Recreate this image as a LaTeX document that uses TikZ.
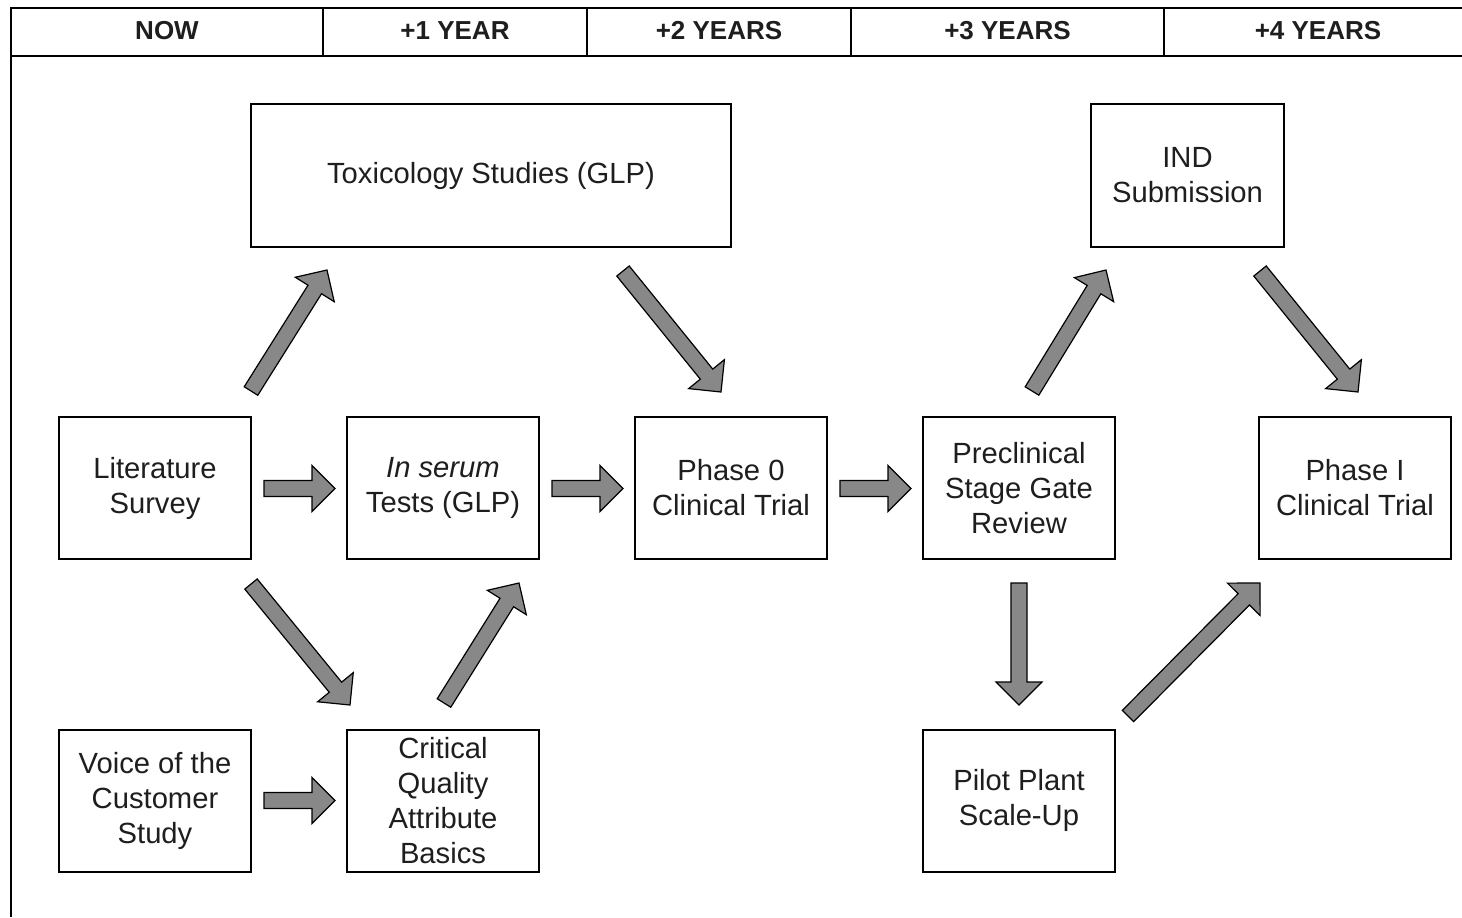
\documentclass[tikz,border=0pt]{standalone}
\usepackage{fontspec}
\setmainfont{Liberation Sans}
\usetikzlibrary{calc}
\definecolor{arrgray}{HTML}{888888}
\definecolor{txt}{HTML}{1E1E1E}
\tikzset{
  box/.style={draw=black, line width=1pt, minimum width=96pt, minimum height=71pt, inner sep=0pt, align=center, text=txt, font=\fontsize{14.6}{17.5}\selectfont},
  hdr/.style={font=\bfseries\fontsize{13}{15}\selectfont, text=txt},
  barrow/.style={draw=black, line width=0.6pt, fill=arrgray, line join=miter},
}
\newcommand\blockarr[2]{%
  \coordinate (hb) at ($(#2)!11.5pt!(#1)$);
  \path[barrow] ($(#1)!4pt!90:(#2)$) -- ($(hb)!4pt!90:(#2)$) -- ($(hb)!11.5pt!90:(#2)$)
    -- (#2) -- ($(hb)!11.5pt!-90:(#2)$) -- ($(hb)!4pt!-90:(#2)$) -- ($(#1)!4pt!-90:(#2)$) -- cycle;
}
\begin{document}
\begin{tikzpicture}[x=0.5pt, y=-0.5pt]
\useasboundingbox (0,0) rectangle (1462,917);
\fill[white] (0,0) rectangle (1462,917);
% header
\draw[line width=1pt] (1480,8) -- (11,8) -- (11,917);
\draw[line width=1pt] (11,56) -- (1480,56);
\foreach \x in {323,587,851,1164} \draw[line width=1pt] (\x,8) -- (\x,56);
\node[hdr] (h0) at (167,31) {NOW};
\node[hdr] (h1) at (455,31) {+1 YEAR};
\node[hdr] (h2) at (719,31) {+2 YEARS};
\node[hdr] (h3) at (1007.5,31) {+3 YEARS};
\node[hdr] (h4) at (1318,31) {+4 YEARS};
% boxes
\node[box, minimum width=240pt, minimum height=71.5pt] (tox) at (491,175.5) {Toxicology Studies (GLP)};
\node[box, minimum width=96.5pt, minimum height=71.5pt] (ind) at (1187.5,175.5) {IND\\Submission};
\node[box] (lit) at (155,488) {Literature\\Survey};
\node[box] (ser) at (443,488) {\textit{In serum}\\Tests (GLP)};
\node[box] (ph0) at (731,488) {Phase 0\\Clinical Trial};
\node[box] (pre) at (1019,488) {Preclinical\\Stage Gate\\Review};
\node[box] (ph1) at (1355,488) {Phase I\\Clinical Trial};
\node[box] (voc) at (155,800.5) {Voice of the\\Customer\\Study};
\node[box] (cqa) at (443,800.5) {Critical\\Quality\\Attribute\\Basics};
\node[box] (pil) at (1019,800.5) {Pilot Plant\\Scale-Up};
% arrow end points
\coordinate (a1s) at (251,391);  \coordinate (a1e) at (327,270);
\coordinate (a2s) at (623,271);  \coordinate (a2e) at (721,392);
\coordinate (a3s) at (251,584);  \coordinate (a3e) at (350,705);
\coordinate (a4s) at (444,703);  \coordinate (a4e) at (519,583);
\coordinate (a5s) at (1032,391); \coordinate (a5e) at (1106,270);
\coordinate (a6s) at (1260,271); \coordinate (a6e) at (1358,392);
\coordinate (a7s) at (1019,583); \coordinate (a7e) at (1019,705);
\coordinate (a8s) at (1128,716); \coordinate (a8e) at (1260,583);
\coordinate (b1s) at ($(lit.east)+(12,0.5)$); \coordinate (b1e) at ($(ser.west)+(-11,0.5)$);
\coordinate (b2s) at ($(ser.east)+(12,0.5)$); \coordinate (b2e) at ($(ph0.west)+(-11,0.5)$);
\coordinate (b3s) at ($(ph0.east)+(12,0.5)$); \coordinate (b3e) at ($(pre.west)+(-11,0.5)$);
\coordinate (b4s) at ($(voc.east)+(12,0)$);   \coordinate (b4e) at ($(cqa.west)+(-11,0)$);
\blockarr{a1s}{a1e}
\blockarr{a2s}{a2e}
\blockarr{a3s}{a3e}
\blockarr{a4s}{a4e}
\blockarr{a5s}{a5e}
\blockarr{a6s}{a6e}
\blockarr{a7s}{a7e}
\blockarr{a8s}{a8e}
\blockarr{b1s}{b1e}
\blockarr{b2s}{b2e}
\blockarr{b3s}{b3e}
\blockarr{b4s}{b4e}
\end{tikzpicture}
\end{document}
